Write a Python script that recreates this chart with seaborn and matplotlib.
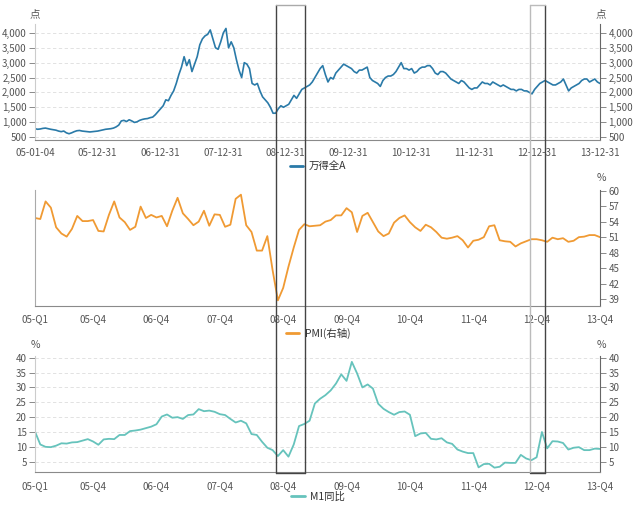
import numpy as np
import pandas as pd
import matplotlib
matplotlib.use("Agg")
import matplotlib.pyplot as plt
from matplotlib.lines import Line2D
from matplotlib.ticker import FuncFormatter
from matplotlib.transforms import blended_transform_factory
import seaborn as sns

# 万得全A, 半月取值 (05-01-04 ~ 13-12-31)
wind_a = [
    780, 760, 770, 790, 800, 780, 760, 745, 730, 700, 680, 700, 640, 610, 640, 680, 710, 720, 700, 690, 680, 670, 680, 690,
    700, 720, 740, 760, 770, 780, 800, 840, 900, 1040, 1060, 1020, 1080, 1040, 990, 1010, 1060, 1090, 1110, 1120, 1150, 1170, 1250, 1350,
    1450, 1550, 1750, 1720, 1900, 2050, 2300, 2600, 2850, 3200, 2900, 3100, 2700, 2950, 3200, 3600, 3800, 3900, 3950, 4100, 3800, 3500, 3450, 3700,
    4000, 4150, 3500, 3700, 3500, 3100, 2750, 2500, 3000, 2950, 2800, 2300, 2250, 2300, 2050, 1850, 1750, 1650, 1500, 1300, 1300, 1450, 1550, 1500,
    1550, 1600, 1750, 1900, 1800, 1950, 2100, 2150, 2200, 2250, 2350, 2500, 2650, 2800, 2900, 2600, 2350, 2500, 2450, 2650, 2750, 2850, 2950, 2900,
    2850, 2800, 2700, 2650, 2750, 2750, 2800, 2850, 2500, 2400, 2350, 2300, 2200, 2400, 2500, 2550, 2550, 2600, 2700, 2850, 3000, 2800, 2800, 2750,
    2800, 2650, 2700, 2800, 2850, 2850, 2900, 2900, 2800, 2650, 2600, 2700, 2700, 2650, 2550, 2450, 2400, 2350, 2300, 2400, 2350, 2250, 2150, 2100,
    2150, 2150, 2250, 2350, 2300, 2300, 2250, 2350, 2300, 2250, 2200, 2250, 2200, 2150, 2100, 2100, 2050, 2100, 2100, 2050, 2050, 2000, 1950, 2100,
    2200, 2300, 2350, 2400, 2350, 2300, 2250, 2250, 2300, 2350, 2450, 2250, 2050, 2150, 2200, 2250, 2300, 2400, 2450, 2450, 2350, 2400, 2450, 2350, 2300,
]

# PMI 月度 (2005-01 ~ 2013-12)
pmi = [
    54.7, 54.5, 57.9, 56.7, 52.9, 51.7, 51.1, 52.6, 55.1, 54.1, 54.1, 54.3,
    52.2, 52.1, 55.3, 57.9, 54.8, 53.9, 52.4, 53.0, 56.9, 54.7, 55.3, 54.8,
    55.1, 53.1, 56.1, 58.6, 55.6, 54.5, 53.3, 54.0, 56.1, 53.2, 55.4, 55.3,
    53.0, 53.4, 58.4, 59.2, 53.3, 52.0, 48.4, 48.4, 51.2, 44.6, 38.8, 41.2,
    45.3, 49.0, 52.4, 53.5, 53.1, 53.2, 53.3, 54.0, 54.3, 55.2, 55.2, 56.6,
    55.8, 52.0, 55.1, 55.7, 53.9, 52.1, 51.2, 51.7, 53.8, 54.7, 55.2, 53.9,
    52.9, 52.2, 53.4, 52.9, 52.0, 50.9, 50.7, 50.9, 51.2, 50.4, 49.0, 50.3,
    50.5, 51.0, 53.1, 53.3, 50.4, 50.2, 50.1, 49.2, 49.8, 50.2, 50.6, 50.6,
    50.4, 50.1, 50.9, 50.6, 50.8, 50.1, 50.3, 51.0, 51.1, 51.4, 51.4, 51.0,
]

# M1同比 月度
m1 = [
    15.1, 10.8, 10.0, 9.9, 10.4, 11.2, 11.1, 11.5, 11.6, 12.1, 12.6, 11.8,
    10.7, 12.5, 12.7, 12.6, 14.0, 14.0, 15.3, 15.5, 15.8, 16.3, 16.8, 17.6,
    20.2, 20.9, 19.8, 20.0, 19.4, 20.7, 20.9, 22.7, 22.0, 22.2, 21.8, 21.0,
    20.7, 19.4, 18.2, 18.8, 17.9, 14.3, 14.0, 11.7, 9.7, 8.9, 6.9, 8.9,
    6.7, 10.8, 17.0, 17.7, 18.8, 24.6, 26.2, 27.4, 29.0, 31.3, 34.4, 32.2,
    38.6, 34.7, 30.0, 31.0, 29.6, 24.5, 22.8, 21.7, 20.8, 21.7, 21.9, 20.8,
    13.6, 14.5, 14.7, 12.7, 12.5, 12.9, 11.5, 11.0, 9.1, 8.4, 7.9, 7.9,
    3.1, 4.2, 4.3, 3.0, 3.3, 4.7, 4.6, 4.6, 7.3, 6.1, 5.5, 6.5,
    15.0, 9.5, 11.9, 11.8, 11.3, 9.1, 9.7, 9.9, 8.9, 8.9, 9.4, 9.3,
]

top_tick_labels = ["05-01-04", "05-12-31", "06-12-31", "07-12-31", "08-12-31",
                   "09-12-31", "10-12-31", "11-12-31", "12-12-31", "13-12-31"]
q_tick_labels = ["05-Q1", "05-Q4", "06-Q4", "07-Q4", "08-Q4",
                 "09-Q4", "10-Q4", "11-Q4", "12-Q4", "13-Q4"]

# 阴影框 (月份序号)
highlight_spans = [(45.7, 51.2), (93.8, 96.6)]

sns.set_style("white")
plt.rcParams["font.family"] = ["Noto Sans CJK SC", "DejaVu Sans"]
plt.rcParams["axes.unicode_minus"] = False

c_blue = "#2a7aa8"
c_orange = "#f09a33"
c_teal = "#66c3bc"
tick_col = "#555555"

df_a = pd.DataFrame({"date": pd.date_range("2005-01-04", "2013-12-31", periods=len(wind_a)),
                     "value": wind_a})
months = pd.period_range("2005-01", "2013-12", freq="M")
df_m = pd.DataFrame({"pos": np.arange(len(months)), "pmi": pmi, "m1": m1})

fig = plt.figure(figsize=(6.4, 5.07), dpi=100)
ax1 = fig.add_axes([0.0547, 0.7239, 0.8828, 0.2288])
ax2 = fig.add_axes([0.0547, 0.3964, 0.8828, 0.2288])
ax3 = fig.add_axes([0.0547, 0.0684, 0.8828, 0.2300])

sns.lineplot(data=df_a, x="date", y="value", ax=ax1, color=c_blue, lw=1.2, label="万得全A")
sns.lineplot(data=df_m, x="pos", y="pmi", ax=ax2, color=c_orange, lw=1.3, label="PMI(右轴)")
sns.lineplot(data=df_m, x="pos", y="m1", ax=ax3, color=c_teal, lw=1.3, label="M1同比")


def base_style(ax, left_col, right_col):
    ax.set_xlabel("")
    ax.set_ylabel("")
    ax.spines["top"].set_visible(False)
    ax.spines["left"].set_color(left_col)
    ax.spines["right"].set_color(right_col)
    ax.spines["bottom"].set_color("#8a8a8a")
    for s in ax.spines.values():
        s.set_linewidth(0.8)
    ax.tick_params(axis="both", which="both", direction="out", length=4, width=0.7,
                   color="#8a8a8a", labelsize=7, labelcolor=tick_col, pad=2)


# 上图
base_style(ax1, "#cccccc", "#666666")
top_dates = pd.to_datetime(["20" + s for s in top_tick_labels])
ax1.set_xlim(top_dates[0], top_dates[-1])
ax1.set_xticks(top_dates)
ax1.set_xticklabels(top_tick_labels)
minor_dates = [pd.Timestamp(y, m, d) for y in range(2005, 2014) for m, d in [(3, 31), (6, 30), (9, 30)]]
ax1.set_xticks(minor_dates, minor=True)
ax1.set_ylim(400, 4300)
ax1.set_yticks(range(500, 4001, 500))
ax1.yaxis.set_major_formatter(FuncFormatter(lambda v, p: f"{v:,.0f}"))
ax1.tick_params(axis="y", left=True, right=True, labelleft=True, labelright=True)
ax1.yaxis.grid(True, ls=(0, (4, 3)), color="#dddddd", lw=0.6)

# 中图
base_style(ax2, "#aaaaaa", "#666666")
ax2.set_ylim(37.7, 60.1)
ax2.set_yticks(range(39, 61, 3))
ax2.tick_params(axis="y", left=False, right=True, labelleft=False, labelright=True)

# 下图
base_style(ax3, "#cccccc", "#666666")
ax3.set_ylim(1.43, 40.67)
ax3.set_yticks(range(5, 41, 5))
ax3.tick_params(axis="y", left=True, right=True, labelleft=True, labelright=True)
ax3.yaxis.grid(True, ls=(0, (4, 3)), color="#dddddd", lw=0.6)

majors = [0] + [11 + 12 * k for k in range(9)]
minors = [p for p in range(2, len(months), 3) if p not in majors]
for ax in (ax2, ax3):
    ax.set_xlim(0, len(months) - 1)
    ax.set_xticks(majors)
    ax.set_xticklabels(q_tick_labels)
    ax.set_xticks(minors, minor=True)

# 单位
unit_kw = dict(fontsize=7.5, color=tick_col, ha="center", va="center")
fig.text(35 / 640, 1 - 14 / 507, "点", **unit_kw)
fig.text(601 / 640, 1 - 14 / 507, "点", **unit_kw)
fig.text(601 / 640, 1 - 178 / 507, "%", **unit_kw)
fig.text(35 / 640, 1 - 345 / 507, "%", **unit_kw)
fig.text(601 / 640, 1 - 345 / 507, "%", **unit_kw)

# 图例
for ax, ly in ((ax1, 167), (ax2, 333), (ax3, 497)):
    leg = ax.legend(loc="center", bbox_to_anchor=(318 / 640, 1 - ly / 507), bbox_transform=fig.transFigure,
                    frameon=False, fontsize=7.5, handlelength=1.3, handletextpad=0.5, borderpad=0)
    for t in leg.get_texts():
        t.set_color("#333333")
    for h in leg.get_lines():
        h.set_linewidth(2)

# 阴影框
trans = blended_transform_factory(ax3.transData, fig.transFigure)
y_top, y_bot = 1 - 5 / 507, 1 - 473 / 507
edge_cols = [("#444444", "#444444", "#aaaaaa"), ("#bbbbbb", "#444444", "#bbbbbb")]
for (x0, x1), (lc, rc, tc) in zip(highlight_spans, edge_cols):
    fig.add_artist(Line2D([x0, x0], [y_bot, y_top], transform=trans, color=lc, lw=1))
    fig.add_artist(Line2D([x1, x1], [y_bot, y_top], transform=trans, color=rc, lw=1))
    fig.add_artist(Line2D([x0, x1], [y_top, y_top], transform=trans, color=tc, lw=1))
    fig.add_artist(Line2D([x0, x1], [y_bot, y_bot], transform=trans, color="#444444", lw=1))

fig.savefig("out.png", dpi=100)
